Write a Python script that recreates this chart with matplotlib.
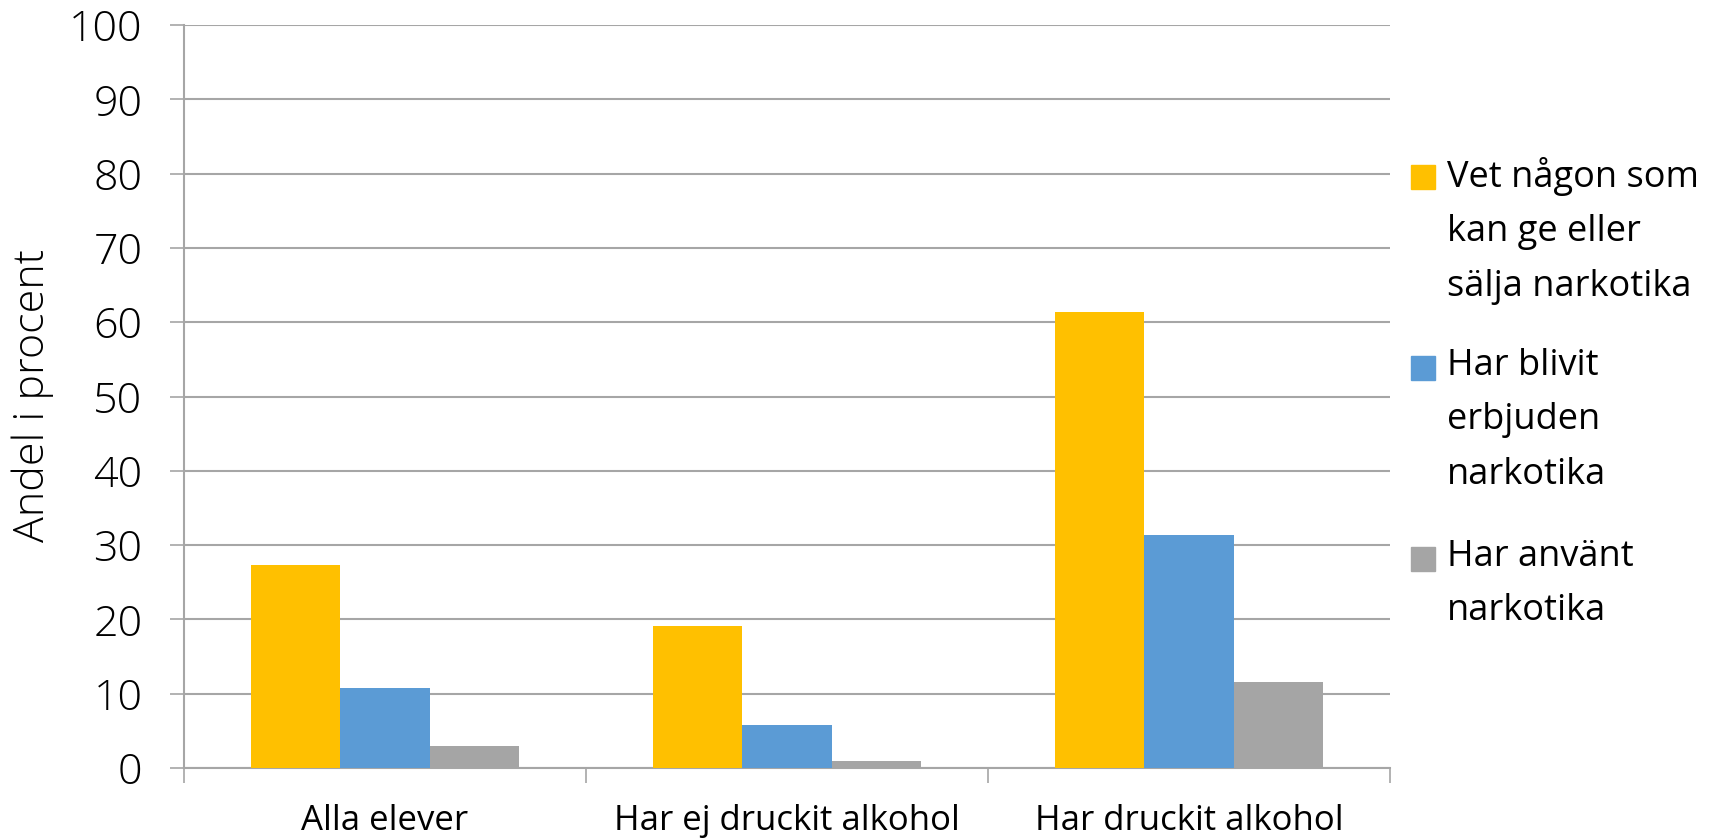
import numpy as np
import matplotlib.pyplot as plt
from matplotlib.patches import Rectangle

plt.rcParams['font.family'] = ['Open Sans', 'DejaVu Sans']

# data
categories = ['Alla elever', 'Har ej druckit alkohol', 'Har druckit alkohol']
series_names = ['Vet någon som\nkan ge eller\nsälja narkotika',
                'Har blivit\nerbjuden\nnarkotika',
                'Har använt\nnarkotika']
vet_nagon = [27.3, 19.1, 61.4]
erbjuden = [10.8, 5.8, 31.4]
anvant = [3.0, 1.0, 11.6]
colors = ['#FFC000', '#5B9BD5', '#A5A5A5']
yticks = list(range(0, 101, 10))

W, H = 1721, 839
fig = plt.figure(figsize=(W / 100, H / 100), dpi=100)
ax = fig.add_axes([184 / W, 1 - 768 / H, (1390 - 184) / W, (768 - 25) / H])

x = np.arange(len(categories))
bw = 1 / 4.5
for i, vals in enumerate([vet_nagon, erbjuden, anvant]):
    ax.bar(x + (i - 1) * bw, vals, width=bw, color=colors[i], zorder=3)

gridc = '#A6A6A6'
ax.set_ylim(0, 100)
ax.set_xlim(-0.5, len(categories) - 0.5)
ax.set_yticks(yticks)
ax.set_yticklabels([str(v) for v in yticks], fontsize=31, fontweight='light')
ax.yaxis.grid(True, color=gridc, linewidth=1.5, zorder=0)
ax.tick_params(axis='y', length=10, width=1.2, color=gridc, pad=20)

# category separators as major ticks, labels on minor ticks
ax.set_xticks(np.arange(-0.5, len(categories), 1.0))
ax.set_xticklabels([])
ax.set_xticks(x, minor=True)
ax.set_xticklabels(categories, minor=True, fontsize=25)
ax.tick_params(axis='x', which='major', length=11, width=1.2, color=gridc)
ax.tick_params(axis='x', which='minor', length=0, pad=26)

for s in ['top', 'right']:
    ax.spines[s].set_visible(False)
for s in ['left', 'bottom']:
    ax.spines[s].set_color(gridc)
    ax.spines[s].set_linewidth(1.5)

fig.text(33 / W, 1 - 395 / H, 'Andel i procent', rotation=90,
         ha='center', va='center', fontsize=31, fontweight='light')

# legend with the square level with the first text line
tops = [165, 356, 547]
for name, c, t in zip(series_names, colors, tops):
    fig.add_artist(Rectangle((1411 / W, 1 - (t + 24) / H), 24 / W, 24 / H,
                             transform=fig.transFigure, color=c))
    fig.text(1447 / W, 1 - (t - 8) / H, name, ha='left', va='top',
             fontsize=26, linespacing=1.68)

fig.savefig('out.png', dpi=100)
